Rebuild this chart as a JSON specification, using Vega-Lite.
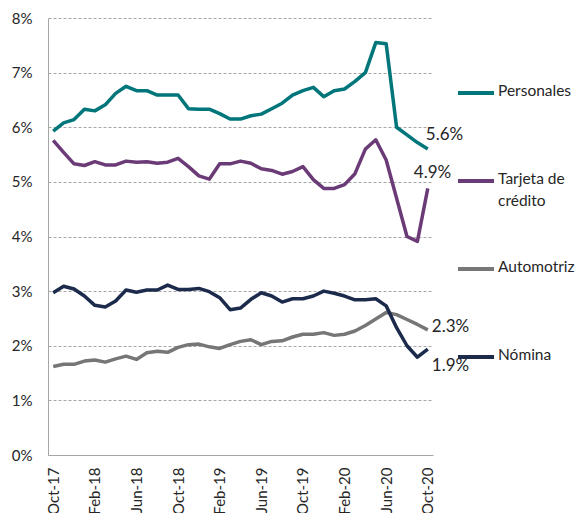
{
  "$schema": "https://vega.github.io/schema/vega-lite/v6.json",
  "width": 385,
  "height": 437,
  "autosize": {"type": "none"},
  "padding": {"left": 48, "top": 18, "right": 144, "bottom": 58},
  "background": "white",
  "config": {
    "view": {"stroke": null},
    "font": "Lato",
    "axis": {"labelFont": "Lato", "labelColor": "#262626", "labelFontSize": 15, "ticks": false, "domainColor": "#a6a6a6", "title": null},
    "legend": {"labelFont": "Lato", "labelColor": "#262626"}
  },
  "data": {
    "values": [
      {"mes": "Oct-17", "Personales": 0.0593, "Tarjeta de crédito": 0.0576, "Automotriz": 0.0162, "Nómina": 0.0297},
      {"mes": "Nov-17", "Personales": 0.0608, "Tarjeta de crédito": 0.0554, "Automotriz": 0.0166, "Nómina": 0.0309},
      {"mes": "Dec-17", "Personales": 0.0614, "Tarjeta de crédito": 0.0533, "Automotriz": 0.0166, "Nómina": 0.0304},
      {"mes": "Jan-18", "Personales": 0.0633, "Tarjeta de crédito": 0.0530, "Automotriz": 0.0172, "Nómina": 0.0291},
      {"mes": "Feb-18", "Personales": 0.0630, "Tarjeta de crédito": 0.0537, "Automotriz": 0.0174, "Nómina": 0.0274},
      {"mes": "Mar-18", "Personales": 0.0641, "Tarjeta de crédito": 0.0531, "Automotriz": 0.0170, "Nómina": 0.0271},
      {"mes": "Apr-18", "Personales": 0.0662, "Tarjeta de crédito": 0.0531, "Automotriz": 0.0176, "Nómina": 0.0282},
      {"mes": "May-18", "Personales": 0.0675, "Tarjeta de crédito": 0.0538, "Automotriz": 0.0181, "Nómina": 0.0302},
      {"mes": "Jun-18", "Personales": 0.0667, "Tarjeta de crédito": 0.0536, "Automotriz": 0.0175, "Nómina": 0.0298},
      {"mes": "Jul-18", "Personales": 0.0667, "Tarjeta de crédito": 0.0537, "Automotriz": 0.0187, "Nómina": 0.0302},
      {"mes": "Aug-18", "Personales": 0.0659, "Tarjeta de crédito": 0.0534, "Automotriz": 0.0190, "Nómina": 0.0302},
      {"mes": "Sep-18", "Personales": 0.0659, "Tarjeta de crédito": 0.0536, "Automotriz": 0.0188, "Nómina": 0.0311},
      {"mes": "Oct-18", "Personales": 0.0659, "Tarjeta de crédito": 0.0543, "Automotriz": 0.0197, "Nómina": 0.0303},
      {"mes": "Nov-18", "Personales": 0.0634, "Tarjeta de crédito": 0.0528, "Automotriz": 0.0202, "Nómina": 0.0303},
      {"mes": "Dec-18", "Personales": 0.0633, "Tarjeta de crédito": 0.0511, "Automotriz": 0.0203, "Nómina": 0.0305},
      {"mes": "Jan-19", "Personales": 0.0633, "Tarjeta de crédito": 0.0505, "Automotriz": 0.0198, "Nómina": 0.0299},
      {"mes": "Feb-19", "Personales": 0.0625, "Tarjeta de crédito": 0.0533, "Automotriz": 0.0195, "Nómina": 0.0288},
      {"mes": "Mar-19", "Personales": 0.0615, "Tarjeta de crédito": 0.0533, "Automotriz": 0.0202, "Nómina": 0.0266},
      {"mes": "Apr-19", "Personales": 0.0615, "Tarjeta de crédito": 0.0538, "Automotriz": 0.0208, "Nómina": 0.0269},
      {"mes": "May-19", "Personales": 0.0621, "Tarjeta de crédito": 0.0534, "Automotriz": 0.0211, "Nómina": 0.0285},
      {"mes": "Jun-19", "Personales": 0.0624, "Tarjeta de crédito": 0.0524, "Automotriz": 0.0202, "Nómina": 0.0297},
      {"mes": "Jul-19", "Personales": 0.0634, "Tarjeta de crédito": 0.0521, "Automotriz": 0.0208, "Nómina": 0.0291},
      {"mes": "Aug-19", "Personales": 0.0644, "Tarjeta de crédito": 0.0514, "Automotriz": 0.0209, "Nómina": 0.0280},
      {"mes": "Sep-19", "Personales": 0.0659, "Tarjeta de crédito": 0.0519, "Automotriz": 0.0216, "Nómina": 0.0286},
      {"mes": "Oct-19", "Personales": 0.0667, "Tarjeta de crédito": 0.0528, "Automotriz": 0.0221, "Nómina": 0.0286},
      {"mes": "Nov-19", "Personales": 0.0673, "Tarjeta de crédito": 0.0504, "Automotriz": 0.0221, "Nómina": 0.0291},
      {"mes": "Dec-19", "Personales": 0.0656, "Tarjeta de crédito": 0.0488, "Automotriz": 0.0224, "Nómina": 0.0300},
      {"mes": "Jan-20", "Personales": 0.0667, "Tarjeta de crédito": 0.0488, "Automotriz": 0.0219, "Nómina": 0.0296},
      {"mes": "Feb-20", "Personales": 0.0670, "Tarjeta de crédito": 0.0495, "Automotriz": 0.0221, "Nómina": 0.0291},
      {"mes": "Mar-20", "Personales": 0.0684, "Tarjeta de crédito": 0.0515, "Automotriz": 0.0227, "Nómina": 0.0284},
      {"mes": "Apr-20", "Personales": 0.0700, "Tarjeta de crédito": 0.0560, "Automotriz": 0.0237, "Nómina": 0.0284},
      {"mes": "May-20", "Personales": 0.0755, "Tarjeta de crédito": 0.0577, "Automotriz": 0.0249, "Nómina": 0.0286},
      {"mes": "Jun-20", "Personales": 0.0753, "Tarjeta de crédito": 0.0540, "Automotriz": 0.0261, "Nómina": 0.0273},
      {"mes": "Jul-20", "Personales": 0.0600, "Tarjeta de crédito": 0.0470, "Automotriz": 0.0257, "Nómina": 0.0233},
      {"mes": "Aug-20", "Personales": 0.0586, "Tarjeta de crédito": 0.0400, "Automotriz": 0.0248, "Nómina": 0.0200},
      {"mes": "Sep-20", "Personales": 0.0572, "Tarjeta de crédito": 0.0391, "Automotriz": 0.0239, "Nómina": 0.0179},
      {"mes": "Oct-20", "Personales": 0.0560, "Tarjeta de crédito": 0.0488, "Automotriz": 0.0229, "Nómina": 0.0194}
    ]
  },
  "transform": [
    {"fold": ["Personales", "Tarjeta de crédito", "Automotriz", "Nómina"], "as": ["serie", "valor"]}
  ],
  "encoding": {
    "x": {
      "field": "mes", "type": "ordinal", "sort": null,
      "scale": {"type": "point", "padding": 0.5},
      "axis": {
        "values": ["Oct-17", "Feb-18", "Jun-18", "Oct-18", "Feb-19", "Jun-19", "Oct-19", "Feb-20", "Jun-20", "Oct-20"],
        "labelAngle": 270, "labelAlign": "right", "labelBaseline": "middle", "labelPadding": 12, "grid": false
      }
    },
    "y": {
      "field": "valor", "type": "quantitative",
      "scale": {"domain": [0, 0.08], "nice": false},
      "axis": {
        "values": [0, 0.01, 0.02, 0.03, 0.04, 0.05, 0.06, 0.07, 0.08],
        "format": ".0%", "labelPadding": 16, "grid": true,
        "gridColor": "#a6a6a6", "gridDash": [3, 2], "gridWidth": 1,
        "labelFlush": false
      }
    },
    "color": {
      "field": "serie", "type": "nominal",
      "scale": {
        "domain": ["Personales", "Tarjeta de crédito", "Automotriz", "Nómina"],
        "range": ["#00767a", "#6b3b77", "#767676", "#1c2b4c"]
      },
      "legend": {
        "title": null, "orient": "none", "legendX": 408, "legendY": 55,
        "direction": "vertical",
        "symbolType": "stroke", "symbolSize": 1296, "symbolStrokeWidth": 4,
        "labelFontSize": 15.5, "labelOffset": 2, "labelLimit": 200,
        "labelBaseline": "top", "rowPadding": 39,
        "labelExpr": "datum.label == 'Tarjeta de crédito' ? ['Tarjeta de', 'crédito'] : [datum.label, '']",
        "encode": {"labels": {"update": {"dy": {"value": -9}, "lineHeight": {"value": 22}}}}
      }
    }
  },
  "layer": [
    {"mark": {"type": "line", "strokeWidth": 3.5, "strokeJoin": "round"}},
    {
      "transform": [{"filter": "datum.mes == 'Oct-20' && datum.serie == 'Personales'"}],
      "mark": {"type": "text", "align": "left", "baseline": "middle", "dx": -2, "dy": -14, "fontSize": 17, "color": "#262626"},
      "encoding": {"text": {"field": "valor", "format": ".1%"}, "color": {"value": "#262626"}}
    },
    {
      "transform": [{"filter": "datum.mes == 'Oct-20' && datum.serie == 'Tarjeta de crédito'"}],
      "mark": {"type": "text", "align": "left", "baseline": "middle", "dx": -14, "dy": -15, "fontSize": 17, "color": "#262626"},
      "encoding": {"text": {"field": "valor", "format": ".1%"}, "color": {"value": "#262626"}}
    },
    {
      "transform": [{"filter": "datum.mes == 'Oct-20' && datum.serie == 'Automotriz'"}],
      "mark": {"type": "text", "align": "left", "baseline": "middle", "dx": 4, "dy": -3, "fontSize": 17, "color": "#262626"},
      "encoding": {"text": {"field": "valor", "format": ".1%"}, "color": {"value": "#262626"}}
    },
    {
      "transform": [{"filter": "datum.mes == 'Oct-20' && datum.serie == 'Nómina'"}],
      "mark": {"type": "text", "align": "left", "baseline": "middle", "dx": 4, "dy": 17, "fontSize": 17, "color": "#262626"},
      "encoding": {"text": {"field": "valor", "format": ".1%"}, "color": {"value": "#262626"}}
    }
  ]
}
